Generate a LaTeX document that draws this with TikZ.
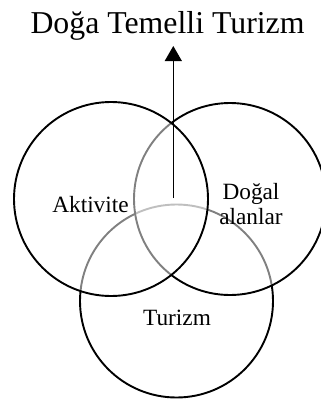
\documentclass[tikz,border=0pt]{standalone}
\usepackage{fontspec}
\setmainfont{Liberation Serif}
\usetikzlibrary{arrows.meta}
\begin{document}
\begin{tikzpicture}[x=1pt,y=-1pt,
  venn/.style={circle, draw=black, line width=1.9pt, fill=white, fill opacity=0.5, draw opacity=1, inner sep=0pt, minimum size=#1},
  lbl/.style={font=\fontsize{23.3}{25}\selectfont, inner sep=0pt, anchor=base},
  ttl/.style={font=\fontsize{31.8}{38}\selectfont, inner sep=0pt, anchor=base}]
\useasboundingbox (0,0) rectangle (321,399);
\node[venn=193pt] (B) at (176.5,301) {};
\node[venn=192pt] (R) at (230,199) {};
\node[venn=194pt] (L) at (111,199) {};
\node[lbl] (akt) at (90.5,212) {Aktivite};
\node[lbl] (dog1) at (251,199) {Doğal};
\node[lbl] (dog2) at (251,224) {alanlar};
\node[lbl] (tur) at (177,325) {Turizm};
\node[ttl] (title) at (167.5,33) {Doğa Temelli Turizm};
\coordinate (as) at (173.3,198);
\coordinate (at) at (173.3,46);
\draw[line width=1.1pt, -{Triangle[width=17pt,length=15pt]}] (as) -- (at);
\end{tikzpicture}
\end{document}
